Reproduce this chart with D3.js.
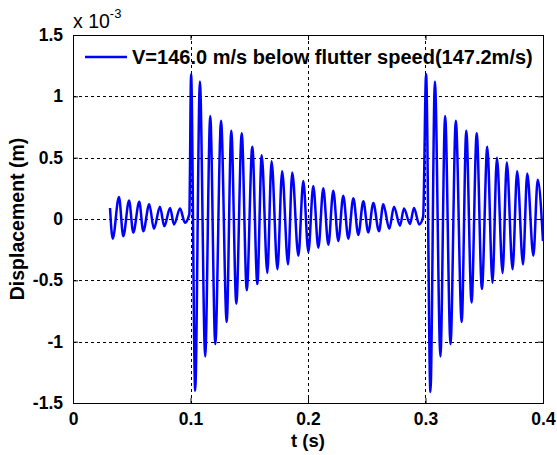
<!DOCTYPE html>
<html>
<head>
<meta charset="utf-8">
<script src="https://cdn.jsdelivr.net/npm/d3@7"></script>
<style>
  body { margin: 0; background: #fff; }
  svg text { font-family: "Liberation Sans", Arial, sans-serif; }
</style>
</head>
<body>
<div id="viz"></div>
<script>
// peaks, time in s, displacement in units of 1e-3 m
var burst0T = [0.0315, 0.0338, 0.0391, 0.0428, 0.0477, 0.0513, 0.0564, 0.0598, 0.0649, 0.0689, 0.0740, 0.0777, 0.0826, 0.0860, 0.0911, 0.0953, 0.0990]
var burst0V = [0.09, -0.16, 0.18, -0.14, 0.15, -0.11, 0.14, -0.10, 0.12, -0.08, 0.10, -0.06, 0.09, -0.045, 0.085, -0.03, 0.04]

var burst1T = [0.1005, 0.1040, 0.1080, 0.1125, 0.1168, 0.1211, 0.1260, 0.1308, 0.1347, 0.1390, 0.1436, 0.1479, 0.1526, 0.1569, 0.1606, 0.1654, 0.1690, 0.1740, 0.1780, 0.1830, 0.1866, 0.1918, 0.1960, 0.2003, 0.2045, 0.2088, 0.2130, 0.2173, 0.2215, 0.2258, 0.2300, 0.2343, 0.2386, 0.2428, 0.2471, 0.2513, 0.2556, 0.2604, 0.2641, 0.2692, 0.2732, 0.2783, 0.2817, 0.2868, 0.2902, 0.2947, 0.2980]
var burst1V = [1.18, -1.40, 1.12, -1.12, 0.84, -1.02, 0.80, -0.84, 0.72, -0.69, 0.70, -0.58, 0.59, -0.53, 0.52, -0.44, 0.47, -0.41, 0.39, -0.37, 0.38, -0.30, 0.31, -0.27, 0.27, -0.235, 0.25, -0.21, 0.23, -0.18, 0.19, -0.16, 0.17, -0.13, 0.145, -0.11, 0.13, -0.10, 0.12, -0.08, 0.10, -0.055, 0.085, -0.04, 0.09, -0.045, 0.02]

var burst2T = [0.3005, 0.3042, 0.3080, 0.3127, 0.3167, 0.3213, 0.3258, 0.3308, 0.3347, 0.3392, 0.3436, 0.3480, 0.3526, 0.3570, 0.3608, 0.3656, 0.3692, 0.3741, 0.3780, 0.3830, 0.3866, 0.3918, 0.3955, 0.4000]
var burst2V = [1.18, -1.41, 1.12, -1.12, 0.84, -1.02, 0.80, -0.84, 0.72, -0.68, 0.70, -0.57, 0.59, -0.52, 0.50, -0.44, 0.46, -0.41, 0.39, -0.37, 0.37, -0.30, 0.32, -0.18]

var xTicks = [0, 0.1, 0.2, 0.3, 0.4]
var yTicks = [-1.5, -1, -0.5, 0, 0.5, 1, 1.5]
var legendLabel = 'V=146.0 m/s below flutter speed(147.2m/s)'

var w = 557, h = 455
var pL = 73, pR = 543, pT = 35, pB = 403

var svg = d3.select('#viz')
            .append('svg')
            .attr('width', w)
            .attr('height', h)

var x = d3.scaleLinear().domain([0, 0.4]).range([pL, pR])
var y = d3.scaleLinear().domain([-1.5, 1.5]).range([pB, pT])

// grid (dotted)
var grid = svg.append('g').attr('stroke', '#000').attr('stroke-width', 1).attr('stroke-dasharray', '3,3')
grid.selectAll('.gx')
  .data(xTicks.slice(1, -1))
  .enter().append('line')
  .attr('x1', d => Math.round(x(d)) + 0.5).attr('x2', d => Math.round(x(d)) + 0.5)
  .attr('y1', pT).attr('y2', pB)
grid.selectAll('.gy')
  .data(yTicks.slice(1, -1))
  .enter().append('line')
  .attr('y1', d => Math.round(y(d)) + 0.5).attr('y2', d => Math.round(y(d)) + 0.5)
  .attr('x1', pL).attr('x2', pR)

// signal
var pts = []
burst0T.forEach((t, i) => pts.push([t, burst0V[i]]))
burst1T.forEach((t, i) => pts.push([t, burst1V[i]]))
burst2T.forEach((t, i) => pts.push([t, burst2V[i]]))

svg.append('clipPath').attr('id', 'clip')
  .append('rect').attr('x', pL).attr('y', pT).attr('width', pR - pL).attr('height', pB - pT)

var line = d3.line()
  .x(d => x(d[0]))
  .y(d => y(d[1]))
  .curve(d3.curveMonotoneX)

svg.append('path')
  .datum(pts)
  .attr('clip-path', 'url(#clip)')
  .attr('fill', 'none')
  .attr('stroke', '#0000ff')
  .attr('stroke-width', 2.5)
  .attr('stroke-linejoin', 'round')
  .attr('d', line)

// axes, ticks pointing inward
function styleAxis(g) {
  g.select('.domain').remove()
  g.selectAll('line').attr('stroke', '#000')
  g.selectAll('text').attr('font-size', 17.5).attr('font-weight', 'bold').attr('fill', '#000')
}

svg.append('g')
  .attr('transform', 'translate(0,' + pB + ')')
  .call(d3.axisBottom(x).tickValues(xTicks).tickFormat(d => String(d)).tickSizeInner(-5).tickSizeOuter(0).tickPadding(10))
  .call(styleAxis)

svg.append('g')
  .attr('transform', 'translate(' + pL + ',0)')
  .call(d3.axisLeft(y).tickValues(yTicks).tickFormat(d => String(d)).tickSizeInner(-5).tickSizeOuter(0).tickPadding(10))
  .call(styleAxis)

svg.append('g')
  .attr('transform', 'translate(0,' + pT + ')')
  .call(d3.axisTop(x).tickValues(xTicks).tickFormat('').tickSizeInner(-5).tickSizeOuter(0))
  .call(styleAxis)

svg.append('g')
  .attr('transform', 'translate(' + pR + ',0)')
  .call(d3.axisRight(y).tickValues(yTicks).tickFormat('').tickSizeInner(-5).tickSizeOuter(0))
  .call(styleAxis)

svg.append('rect')
  .attr('x', pL + 0.5).attr('y', pT + 0.5)
  .attr('width', pR - pL).attr('height', pB - pT)
  .attr('fill', 'none').attr('stroke', '#000').attr('stroke-width', 1)

// labels
svg.append('text')
  .attr('x', (pL + pR) / 2).attr('y', 447)
  .attr('text-anchor', 'middle')
  .attr('font-size', 18.5).attr('font-weight', 'bold')
  .text('t (s)')

svg.append('text')
  .attr('transform', 'translate(24,' + (pT + pB) / 2 + ') rotate(-90)')
  .attr('text-anchor', 'middle')
  .attr('font-size', 19.5).attr('font-weight', 'bold')
  .text('Displacement (m)')

var ex = svg.append('text')
  .attr('x', pL).attr('y', 28)
  .attr('font-size', 19.5)
ex.append('tspan').text('x 10')
ex.append('tspan').attr('dy', -10).attr('font-size', 13).text('-3')

// legend
svg.append('line')
  .attr('x1', 85).attr('x2', 127).attr('y1', 57).attr('y2', 57)
  .attr('stroke', '#0000ff').attr('stroke-width', 2.5)

svg.append('text')
  .attr('x', 132).attr('y', 64)
  .attr('font-size', 20).attr('font-weight', 'bold')
  .text(legendLabel)
</script>
</body>
</html>
